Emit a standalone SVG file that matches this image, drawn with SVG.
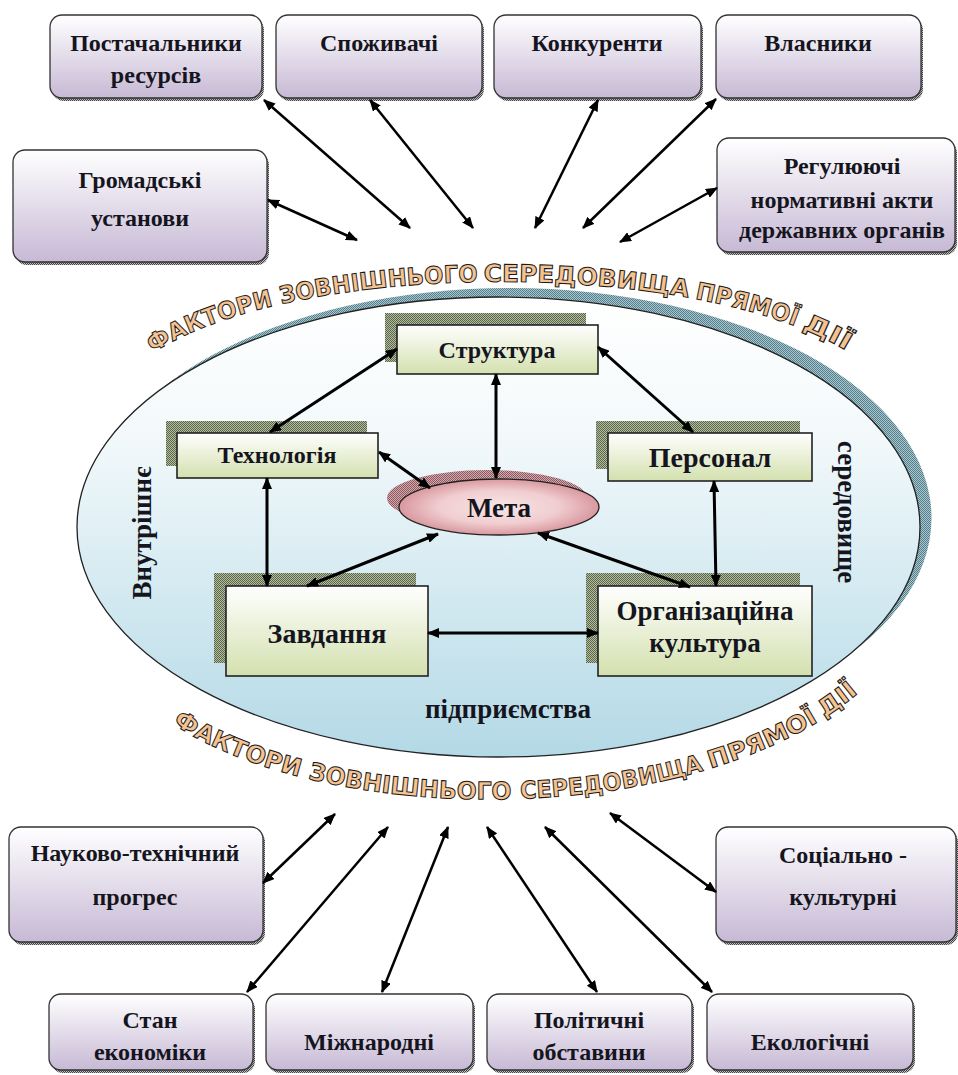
<svg xmlns="http://www.w3.org/2000/svg" width="958" height="1075" viewBox="0 0 958 1075">
<defs>
<linearGradient id="gPurple" x1="0" y1="0" x2="0" y2="1"><stop offset="0" stop-color="#ffffff"/><stop offset="1" stop-color="#c7b9d5"/></linearGradient>
<linearGradient id="gGreen" x1="0" y1="0" x2="0" y2="1"><stop offset="0" stop-color="#ffffff"/><stop offset="1" stop-color="#d3e0ae"/></linearGradient>
<linearGradient id="gBlue" x1="0" y1="0" x2="0" y2="1"><stop offset="0" stop-color="#ffffff"/><stop offset="0.3" stop-color="#f3f9fb"/><stop offset="1" stop-color="#b3d9e6"/></linearGradient>
<radialGradient id="gPink" cx="0.5" cy="0.5" r="0.5"><stop offset="0" stop-color="#f8e6e6"/><stop offset="0.6" stop-color="#f0cdd0"/><stop offset="1" stop-color="#d9989f"/></radialGradient>
<pattern id="hG" width="2" height="2" patternUnits="userSpaceOnUse"><rect width="2" height="2" fill="#b3bca2"/><rect width="1" height="1" fill="#5a6848"/><rect x="1" y="1" width="1" height="1" fill="#5a6848"/></pattern>
<pattern id="hB" width="2" height="2" patternUnits="userSpaceOnUse"><rect width="2" height="2" fill="#a9c6ce"/><rect width="1" height="1" fill="#557f8a"/><rect x="1" y="1" width="1" height="1" fill="#557f8a"/></pattern>
<pattern id="hP" width="2" height="2" patternUnits="userSpaceOnUse"><rect width="2" height="2" fill="#d4a8ad"/><rect width="1" height="1" fill="#8a5a60"/><rect x="1" y="1" width="1" height="1" fill="#8a5a60"/></pattern>
<pattern id="hK" width="2" height="2" patternUnits="userSpaceOnUse"><rect width="2" height="2" fill="#bbbbbb"/><rect width="1" height="1" fill="#444444"/><rect x="1" y="1" width="1" height="1" fill="#444444"/></pattern>
<marker id="ar" viewBox="0 0 12 10" refX="11" refY="5" markerWidth="12" markerHeight="10" markerUnits="userSpaceOnUse" orient="auto-start-reverse"><path d="M0,0 L12,5 L0,10 z" fill="#000"/></marker>
<path id="arcTop" d="M153,353 C300,258 700,258 850,353"/>
<path id="arcBot" d="M170,722 C330,830 700,830 862,690"/>
</defs>
<style>
.box{fill:url(#gPurple);stroke:#333;stroke-width:1.3}
.bsh{fill:url(#hK)}
.ibox{fill:url(#gGreen);stroke:#222;stroke-width:1.6}
.ish{fill:url(#hG)}
.t{font-family:"Liberation Serif","Times New Roman",serif;font-weight:bold;fill:#151520;text-anchor:middle}
.e{font-size:24px}
.i{font-size:28px}
.arc{font-family:"DejaVu Sans","Liberation Sans",sans-serif;font-weight:bold;font-size:24px;fill:#f6c290;stroke:#1a1a1a;stroke-width:1}
.c line{stroke:#000;stroke-width:2.5;marker-start:url(#ar);marker-end:url(#ar)}
.c .th{stroke-width:3}
</style>
<rect width="958" height="1075" fill="#ffffff"/>

<g id="environment">
<ellipse cx="510" cy="518" rx="421.5" ry="230" fill="url(#hB)"/>
<ellipse cx="498.5" cy="527" rx="421.5" ry="230" fill="url(#gBlue)" stroke="#222" stroke-width="1.3"/>
<text class="arc"><textPath href="#arcTop" startOffset="0" textLength="130" lengthAdjust="spacingAndGlyphs">ФАКТОРИ</textPath></text>
<text class="arc"><textPath href="#arcTop" startOffset="138" textLength="198" lengthAdjust="spacingAndGlyphs">ЗОВНІШНЬОГО</textPath></text>
<text class="arc"><textPath href="#arcTop" startOffset="342" textLength="205" lengthAdjust="spacingAndGlyphs">СЕРЕДОВИЩА</textPath></text>
<text class="arc"><textPath href="#arcTop" startOffset="554" textLength="104" lengthAdjust="spacingAndGlyphs">ПРЯМОЇ</textPath></text>
<text class="arc"><textPath href="#arcTop" startOffset="665" textLength="50" lengthAdjust="spacingAndGlyphs">ДІЇ</textPath></text>
<text class="arc"><textPath href="#arcBot" startOffset="3" textLength="138" lengthAdjust="spacingAndGlyphs">ФАКТОРИ</textPath></text>
<text class="arc"><textPath href="#arcBot" startOffset="150" textLength="205" lengthAdjust="spacingAndGlyphs">ЗОВНІШНЬОГО</textPath></text>
<text class="arc"><textPath href="#arcBot" startOffset="364" textLength="186" lengthAdjust="spacingAndGlyphs">СЕРЕДОВИЩА</textPath></text>
<text class="arc"><textPath href="#arcBot" startOffset="557" textLength="118" lengthAdjust="spacingAndGlyphs">ПРЯМОЇ</textPath></text>
<text class="arc"><textPath href="#arcBot" startOffset="682" textLength="42" lengthAdjust="spacingAndGlyphs">ДІЇ</textPath></text>
<text class="t" font-size="27" transform="translate(142,533) rotate(-90)" x="0" y="9">Внутрішнє</text>
<text class="t" font-size="27" transform="translate(847,512) rotate(90)" x="0" y="9">середовище</text>
<text class="t" font-size="27" x="508" y="718">підприємства</text>
</g>

<g id="n-postach"><rect class="bsh" x="52" y="18" width="212" height="83" rx="12"/><rect class="box" x="50" y="15" width="212" height="83" rx="12"/><text class="t e" x="156" y="51">Постачальники</text><text class="t e" x="156" y="83">ресурсів</text></g>
<g id="n-spozh"><rect class="bsh" x="278" y="18" width="206" height="83" rx="12"/><rect class="box" x="276" y="15" width="206" height="83" rx="12"/><text class="t e" x="379" y="51">Споживачі</text></g>
<g id="n-konk"><rect class="bsh" x="496" y="18" width="207" height="83" rx="12"/><rect class="box" x="494" y="15" width="207" height="83" rx="12"/><text class="t e" x="597" y="51">Конкуренти</text></g>
<g id="n-vlasn"><rect class="bsh" x="718" y="18" width="205" height="83" rx="12"/><rect class="box" x="716" y="15" width="205" height="83" rx="12"/><text class="t e" x="818" y="51">Власники</text></g>
<g id="n-hromad"><rect class="bsh" x="15" y="153" width="254" height="112" rx="12"/><rect class="box" x="13" y="150" width="254" height="112" rx="12"/><text class="t e" x="140" y="188">Громадські</text><text class="t e" x="140" y="226">установи</text></g>
<g id="n-rehul"><rect class="bsh" x="719" y="141" width="238" height="114" rx="12"/><rect class="box" x="717" y="138" width="238" height="114" rx="12"/><text class="t e" x="842" y="174">Регулюючі</text><text class="t e" x="842" y="208">нормативні акти</text><text class="t e" x="842" y="238">державних органів</text></g>

<g id="n-nauk"><rect class="bsh" x="11" y="830" width="254" height="115" rx="12"/><rect class="box" x="9" y="827" width="254" height="115" rx="12"/><text class="t e" x="135" y="861">Науково-технічний</text><text class="t e" x="135" y="905">прогрес</text></g>
<g id="n-sots"><rect class="bsh" x="718" y="830" width="240" height="115" rx="12"/><rect class="box" x="716" y="827" width="240" height="115" rx="12"/><text class="t e" x="843" y="863">Соціально -</text><text class="t e" x="843" y="905">культурні</text></g>
<g id="n-stan"><rect class="bsh" x="51" y="997" width="204" height="76" rx="12"/><rect class="box" x="49" y="994" width="204" height="76" rx="12"/><text class="t e" x="150" y="1028">Стан</text><text class="t e" x="150" y="1060">економіки</text></g>
<g id="n-mizhn"><rect class="bsh" x="268" y="997" width="207" height="76" rx="12"/><rect class="box" x="266" y="994" width="207" height="76" rx="12"/><text class="t e" x="369" y="1050">Міжнародні</text></g>
<g id="n-polit"><rect class="bsh" x="489" y="997" width="205" height="76" rx="12"/><rect class="box" x="487" y="994" width="205" height="76" rx="12"/><text class="t e" x="589" y="1028">Політичні</text><text class="t e" x="589" y="1060">обставини</text></g>
<g id="n-ekol"><rect class="bsh" x="709" y="997" width="206" height="76" rx="12"/><rect class="box" x="707" y="994" width="206" height="76" rx="12"/><text class="t e" x="810" y="1050">Екологічні</text></g>

<g id="n-struktura"><rect class="ish" x="385" y="313" width="201" height="49"/><rect class="ibox" x="397" y="325" width="201" height="49"/><text class="t" font-size="24" x="497" y="358">Структура</text></g>
<g id="n-tekhn"><rect class="ish" x="166" y="421" width="201" height="45"/><rect class="ibox" x="177" y="433" width="201" height="45"/><text class="t" font-size="24" x="277" y="463">Технологія</text></g>
<g id="n-person"><rect class="ish" x="596" y="421" width="204" height="48"/><rect class="ibox" x="608" y="433" width="204" height="48"/><text class="t i" x="710" y="467">Персонал</text></g>
<g id="n-zavd"><rect class="ish" x="214" y="573" width="202" height="90"/><rect class="ibox" x="226" y="586" width="202" height="90"/><text class="t i" x="327" y="643">Завдання</text></g>
<g id="n-orgk"><rect class="ish" x="586" y="573" width="214" height="90"/><rect class="ibox" x="598" y="586" width="214" height="90"/><text class="t" font-size="27" x="705" y="620">Організаційна</text><text class="t" font-size="27" x="705" y="652">культура</text></g>
<g id="n-meta"><ellipse cx="487" cy="498" rx="100" ry="28" fill="url(#hP)"/><ellipse cx="499" cy="507" rx="100" ry="28" fill="url(#gPink)" stroke="#222" stroke-width="1.3"/><text class="t" font-size="27" x="499" y="517">Мета</text></g>

<g id="connectors" class="c">
<line x1="264" y1="100" x2="410" y2="228"/>
<line x1="370" y1="100" x2="473" y2="228"/>
<line x1="268" y1="200" x2="357" y2="240"/>
<line x1="598" y1="100" x2="535" y2="228"/>
<line x1="716" y1="99" x2="583" y2="228"/>
<line x1="717" y1="188" x2="620" y2="242"/>
<line x1="263" y1="883" x2="335" y2="814"/>
<line x1="247" y1="992" x2="388" y2="827"/>
<line x1="382" y1="992" x2="448" y2="827"/>
<line x1="597" y1="992" x2="487" y2="827"/>
<line x1="712" y1="992" x2="545" y2="827"/>
<line x1="716" y1="892" x2="610" y2="813"/>
<line class="th" x1="397" y1="349" x2="270" y2="432"/>
<line class="th" x1="496" y1="374" x2="496" y2="478"/>
<line class="th" x1="379" y1="452" x2="430" y2="488"/>
<line class="th" x1="267" y1="478" x2="267" y2="586"/>
<line class="th" x1="307" y1="586" x2="438" y2="534"/>
<line class="th" x1="428" y1="633" x2="598" y2="633"/>
<line class="th" x1="598" y1="347" x2="693" y2="432"/>
<line class="th" x1="714" y1="481" x2="716" y2="586"/>
<line class="th" x1="538" y1="533" x2="690" y2="587"/>
</g>
</svg>
